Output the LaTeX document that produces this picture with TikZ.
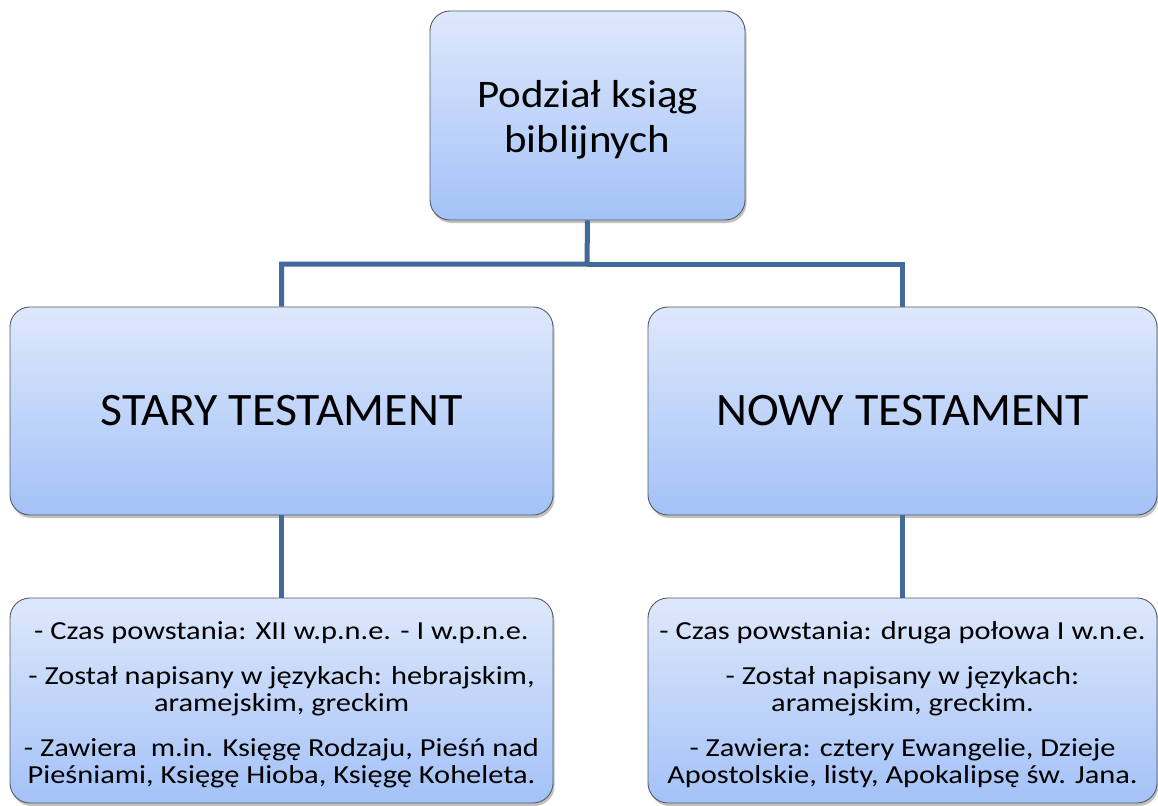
\documentclass[tikz,border=0pt]{standalone}
\usepackage{fontspec}
\setmainfont{Carlito}
\newfontfamily\topfont[FakeStretch=1.1]{Carlito}
\newfontfamily\midfont[FakeStretch=1.03]{Carlito}
\newfontfamily\lowfont[FakeStretch=1.17]{Carlito}
\usetikzlibrary{shadows}
\definecolor{boxtop}{HTML}{DEE8FB}
\definecolor{boxbot}{HTML}{A3C2F8}
\definecolor{boxline}{HTML}{555B64}
\definecolor{conncol}{HTML}{43699A}
\tikzset{
  box/.style={draw=boxline, line width=0.9pt, rounded corners=20pt,
    top color=boxtop, bottom color=boxbot, align=center, inner sep=0pt,
    drop shadow={shadow xshift=1.5pt, shadow yshift=-3pt, opacity=0.35, fill=black!70}},
  conn/.style={draw=conncol, line width=5pt}
}
\begin{document}
\begin{tikzpicture}[x=1pt,y=-1pt]
\useasboundingbox (0,0) rectangle (1158,805);
\coordinate (j) at (587,264);
\node[box, minimum width=315pt, minimum height=209pt, font=\topfont\fontsize{39}{45}\selectfont]
  (top) at (587.5,115.5) {\rule{0pt}{36pt}Podział ksiąg\\biblijnych};
\node[box, minimum width=543pt, minimum height=208pt, font=\midfont\fontsize{46.5}{52}\selectfont]
  (st) at (281.5,411) {STARY TESTAMENT};
\node[box, minimum width=509pt, minimum height=208pt, font=\midfont\fontsize{46.5}{52}\selectfont]
  (nt) at (902.5,411) {NOWY TESTAMENT};
\node[box, minimum width=543pt, minimum height=205pt, font=\lowfont\fontsize{26}{27}\selectfont]
  (sd) at (281.5,700.5) {\rule{0pt}{27pt}- Czas powstania: XII w.p.n.e. - I w.p.n.e.\\[18pt]
  - Został napisany w językach: hebrajskim,\\aramejskim, greckim\\[18pt]
  - Zawiera\ \ m.in. Księgę Rodzaju, Pieśń nad\\Pieśniami, Księgę Hioba, Księgę Koheleta.};
\node[box, minimum width=509pt, minimum height=205pt, font=\lowfont\fontsize{26}{27}\selectfont]
  (nd) at (902.5,700.5) {\rule{0pt}{27pt}- Czas powstania: druga połowa I w.n.e.\\[18pt]
  - Został napisany w językach:\\aramejskim, greckim.\\[18pt]
  - Zawiera: cztery Ewangelie, Dzieje\\Apostolskie, listy, Apokalipsę św. Jana.};
\draw[conn] (top.south) -- (j) -| (st.north);
\draw[conn] (j) -| (nt.north);
\draw[conn] (st.south) -- (sd.north);
\draw[conn] (nt.south) -- (nd.north);
\end{tikzpicture}
\end{document}
